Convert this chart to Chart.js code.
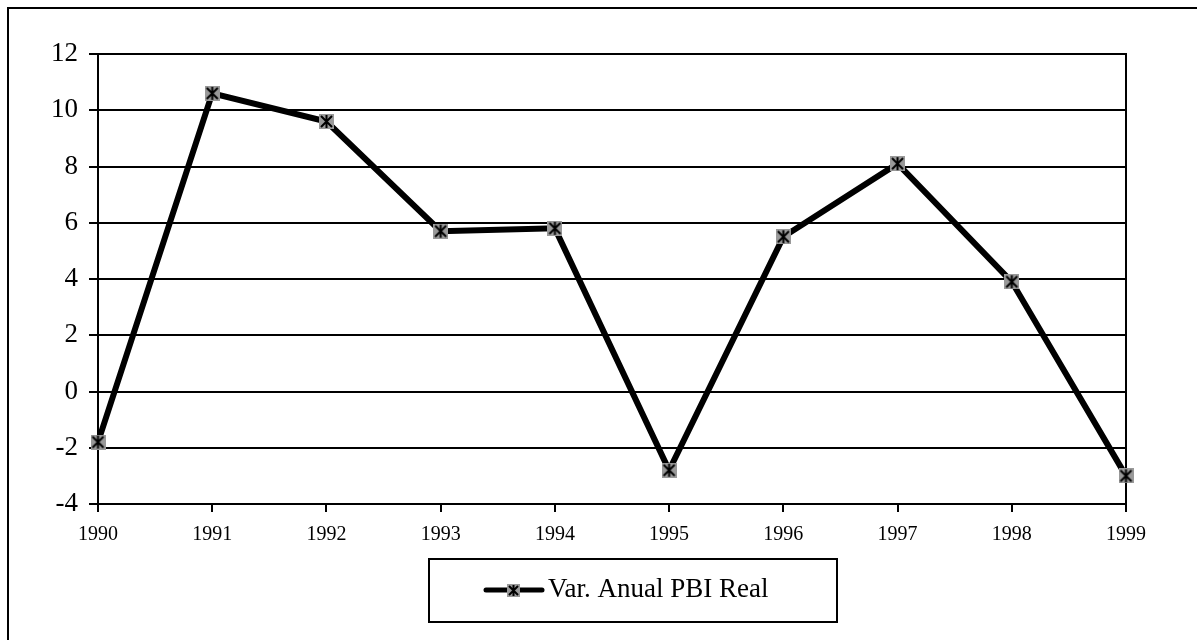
<!DOCTYPE html>
<html>
<head>
<meta charset="utf-8">
<script src="https://cdn.jsdelivr.net/npm/chart.js@4.4.1/dist/chart.umd.min.js"></script>
<style>
  html, body { margin: 0; padding: 0; background: #fff; }
  #wrap { width: 1197px; height: 640px; position: relative; }
</style>
</head>
<body>
<div id="wrap"><canvas id="pbiChart" width="1197" height="640"></canvas></div>
<script>
// data
const years = ['1990', '1991', '1992', '1993', '1994', '1995', '1996', '1997', '1998', '1999'];
const pbiVar = [-1.8, 10.6, 9.6, 5.7, 5.8, -2.8, 5.5, 8.1, 3.9, -3.0];
const seriesLabel = 'Var. Anual PBI Real';

const serif = "'Liberation Serif', 'DejaVu Serif', serif";

// gray square with a black star, like the old spreadsheet marker
function makeMarker(size) {
    const c = document.createElement('canvas');
    c.width = size;
    c.height = size;
    const g = c.getContext('2d');
    g.fillStyle = '#999999';
    g.fillRect(0, 0, size, size);
    g.strokeStyle = '#000';
    g.lineWidth = 2;
    g.beginPath();
    g.moveTo(2, 2); g.lineTo(size - 2, size - 2);
    g.moveTo(size - 2, 2); g.lineTo(2, size - 2);
    g.moveTo(size / 2, 1); g.lineTo(size / 2, size - 1);
    g.stroke();
    return c;
}
const marker = makeMarker(15);
const legendMarker = makeMarker(13);

// page frame + boxed legend
const framePlugin = {
    id: 'frame',
    afterDraw(chart) {
        const ctx = chart.ctx;
        ctx.save();
        ctx.strokeStyle = '#000';
        ctx.lineWidth = 2;
        ctx.beginPath();
        ctx.moveTo(8, 640);
        ctx.lineTo(8, 8);
        ctx.lineTo(1197, 8);
        ctx.stroke();

        // legend box
        ctx.strokeRect(429, 559, 408, 63);
        ctx.lineWidth = 5;
        ctx.lineCap = 'round';
        ctx.beginPath();
        ctx.moveTo(486, 590);
        ctx.lineTo(542, 590);
        ctx.stroke();
        ctx.drawImage(legendMarker, 507, 584);
        ctx.fillStyle = '#000';
        ctx.font = '27px ' + serif;
        ctx.textBaseline = 'middle';
        ctx.fillText(chart.data.datasets[0].label, 548, 590);
        ctx.restore();
    }
};

const ctx = document.getElementById('pbiChart').getContext('2d');
const chart = new Chart(ctx, {
    type: 'line',
    data: {
        labels: years,
        datasets: [{
            label: seriesLabel,
            data: pbiVar,
            borderColor: '#000',
            borderWidth: 6,
            tension: 0,
            fill: false,
            pointStyle: marker,
            pointRadius: 7,
            pointHoverRadius: 7
        }]
    },
    options: {
        responsive: false,
        animation: false,
        layout: { padding: { top: 54, left: 0, right: 0, bottom: 0 } },
        plugins: {
            legend: { display: false },
            tooltip: { enabled: false }
        },
        scales: {
            x: {
                offset: false,
                grid: {
                    drawOnChartArea: false,
                    color: '#000',
                    lineWidth: 2,
                    tickLength: 8
                },
                border: { color: '#000', width: 2 },
                ticks: {
                    color: '#000',
                    font: { family: serif, size: 20 },
                    padding: 11,
                    maxRotation: 0
                },
                afterFit: scale => { scale.height = 136; }
            },
            y: {
                min: -4,
                max: 12,
                grid: {
                    color: '#000',
                    lineWidth: 2,
                    tickLength: 9
                },
                border: { color: '#000', width: 2 },
                ticks: {
                    stepSize: 2,
                    color: '#000',
                    font: { family: serif, size: 27 },
                    padding: 11
                },
                afterFit: scale => { scale.width = 98; }
            },
            yRight: {
                position: 'right',
                min: -4,
                max: 12,
                grid: { drawOnChartArea: false, drawTicks: false },
                border: { color: '#000', width: 2 },
                ticks: { display: false },
                afterFit: scale => { scale.width = 71; }
            }
        }
    },
    plugins: [framePlugin]
});
</script>
</body>
</html>
